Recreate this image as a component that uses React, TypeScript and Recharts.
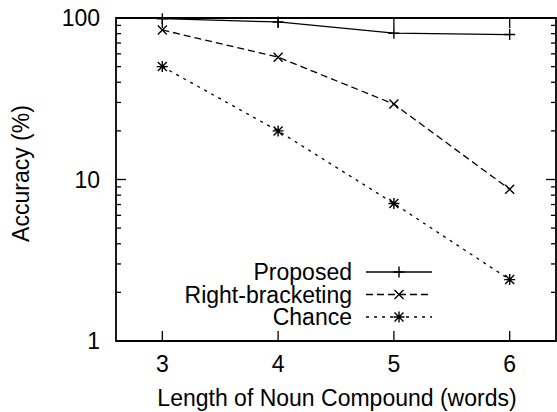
import {
  Legend,
  Line,
  LineChart,
  ReferenceArea,
  XAxis,
  YAxis,
} from "recharts";

// word counts on the x axis
const lengths = [3, 4, 5, 6];
// accuracy (%) per noun-compound length
const proposed = [99, 94.5, 80.5, 79];
const rightBracketing = [84.3, 57.2, 29.3, 8.7];
const chance = [50, 20, 7.1, 2.4];

const xTicks = [3, 4, 5, 6];
const yTicks = [1, 2, 3, 4, 5, 6, 7, 8, 9, 10, 20, 30, 40, 50, 60, 70, 80, 90, 100];
const yLabels = [1, 10, 100];

const W = 557;
const H = 412;
const LEFT = 116;
const TOP = 18;
const BOTTOM = 71;
const RIGHT = 1;
const PLOT_W = W - LEFT - RIGHT;
const PLOT_H = H - TOP - BOTTOM;

const FONT = "'Liberation Sans', Arial, Helvetica, sans-serif";
const FS = 23;
const INK = "#000";

type Kind = "plus" | "cross" | "star";

const SERIES: { key: string; name: string; dash?: string; kind: Kind }[] = [
  { key: "proposed", name: "Proposed", kind: "plus" },
  { key: "right", name: "Right-bracketing", dash: "7 4", kind: "cross" },
  { key: "chance", name: "Chance", dash: "3 5", kind: "star" },
];

const rows = lengths.map((x, i) => ({
  x,
  proposed: proposed[i],
  right: rightBracketing[i],
  chance: chance[i],
}));

function Marker({ cx, cy, kind }: { cx: number; cy: number; kind: Kind }) {
  const r = 5.5;
  const d = 4.5;
  const plus = `M${cx - r},${cy}H${cx + r}M${cx},${cy - r}V${cy + r}`;
  const cross = `M${cx - d},${cy - d}L${cx + d},${cy + d}M${cx - d},${cy + d}L${cx + d},${cy - d}`;
  const path = kind === "plus" ? plus : kind === "cross" ? cross : plus + cross;
  return <path d={path} stroke={INK} strokeWidth={1.4} fill="none" />;
}

function YTick(props: any) {
  const { x, y, payload } = props;
  const v = payload.value;
  const major = yLabels.includes(v);
  const len = major ? 10 : 5;
  return (
    <g>
      <line x1={x} x2={x + len} y1={y} y2={y} stroke={INK} strokeWidth={1.3} />
      <line x1={x + PLOT_W - len} x2={x + PLOT_W} y1={y} y2={y} stroke={INK} strokeWidth={1.3} />
      {major && (
        <text x={x - 16} y={y + 8} textAnchor="end" fontSize={FS} fontFamily={FONT} fill={INK}>
          {v}
        </text>
      )}
    </g>
  );
}

function XTick(props: any) {
  const { x, y, payload } = props;
  return (
    <g>
      <line x1={x} x2={x} y1={y} y2={y - 10} stroke={INK} strokeWidth={1.3} />
      <line x1={x} x2={x} y1={y - PLOT_H} y2={y - PLOT_H + 10} stroke={INK} strokeWidth={1.3} />
      <text x={x} y={y + 31} textAnchor="middle" fontSize={FS} fontFamily={FONT} fill={INK}>
        {payload.value}
      </text>
    </g>
  );
}

function LegendBox() {
  const textRight = 182;
  const lineX1 = 196;
  const lineX2 = 262;
  return (
    <svg width={280} height={78}>
      {SERIES.map((s, i) => {
        const cy = 14 + i * 22.5;
        return (
          <g key={s.key}>
            <text x={textRight} y={cy + 8} textAnchor="end" fontSize={FS} fontFamily={FONT} fill={INK}>
              {s.name}
            </text>
            <line
              x1={lineX1}
              x2={lineX2}
              y1={cy}
              y2={cy}
              stroke={INK}
              strokeWidth={1.3}
              strokeDasharray={s.dash}
            />
            <Marker cx={(lineX1 + lineX2) / 2} cy={cy} kind={s.kind} />
          </g>
        );
      })}
    </svg>
  );
}

export default function App() {
  return (
    <div style={{ position: "absolute", left: 0, top: 0, background: "#fff" }}>
      <LineChart
        width={W}
        height={H}
        data={rows}
        margin={{ top: TOP, right: RIGHT, left: 0, bottom: 0 }}
      >
        <XAxis
          dataKey="x"
          type="number"
          domain={[2.6, 6.4]}
          ticks={xTicks}
          interval={0}
          height={BOTTOM}
          tickSize={0}
          tickMargin={0}
          tickLine={false}
          axisLine={false}
          tick={<XTick />}
          label={(p: any) => {
            const vb = p.viewBox ?? { x: LEFT, y: H - BOTTOM, width: PLOT_W };
            return (
              <text
                x={vb.x + vb.width / 2 + 1}
                y={vb.y + 65}
                textAnchor="middle"
                fontSize={FS}
                fontFamily={FONT}
                fill={INK}
              >
                Length of Noun Compound (words)
              </text>
            );
          }}
        />
        <YAxis
          type="number"
          scale="log"
          domain={[1, 100]}
          ticks={yTicks}
          interval={0}
          width={LEFT}
          tickSize={0}
          tickMargin={0}
          tickLine={false}
          axisLine={false}
          tick={<YTick />}
          label={(p: any) => {
            const vb = p.viewBox ?? { x: 0, y: TOP, height: PLOT_H };
            const cx = vb.x + 21;
            const cy = vb.y + vb.height / 2 - 6;
            return (
              <text
                x={cx}
                y={cy}
                transform={`rotate(-90 ${cx} ${cy})`}
                textAnchor="middle"
                dominantBaseline="central"
                fontSize={FS}
                fontFamily={FONT}
                fill={INK}
              >
                Accuracy (%)
              </text>
            );
          }}
        />
        <ReferenceArea
          x1={2.6}
          x2={6.4}
          y1={1}
          y2={100}
          fill="none"
          stroke={INK}
          strokeWidth={1.8}
          ifOverflow="visible"
        />
        {SERIES.map((s) => (
          <Line
            key={s.key}
            dataKey={s.key}
            name={s.name}
            type="linear"
            stroke={INK}
            strokeWidth={1.3}
            strokeDasharray={s.dash}
            isAnimationActive={false}
            dot={(p: any) => <Marker key={`${s.key}-${p.index}`} cx={p.cx} cy={p.cy} kind={s.kind} />}
            activeDot={false}
          />
        ))}
        <Legend
          layout="horizontal"
          verticalAlign="middle"
          align="center"
          content={() => <LegendBox />}
          wrapperStyle={{ left: 170, top: 258, width: 280, height: 78 }}
        />
      </LineChart>
    </div>
  );
}
